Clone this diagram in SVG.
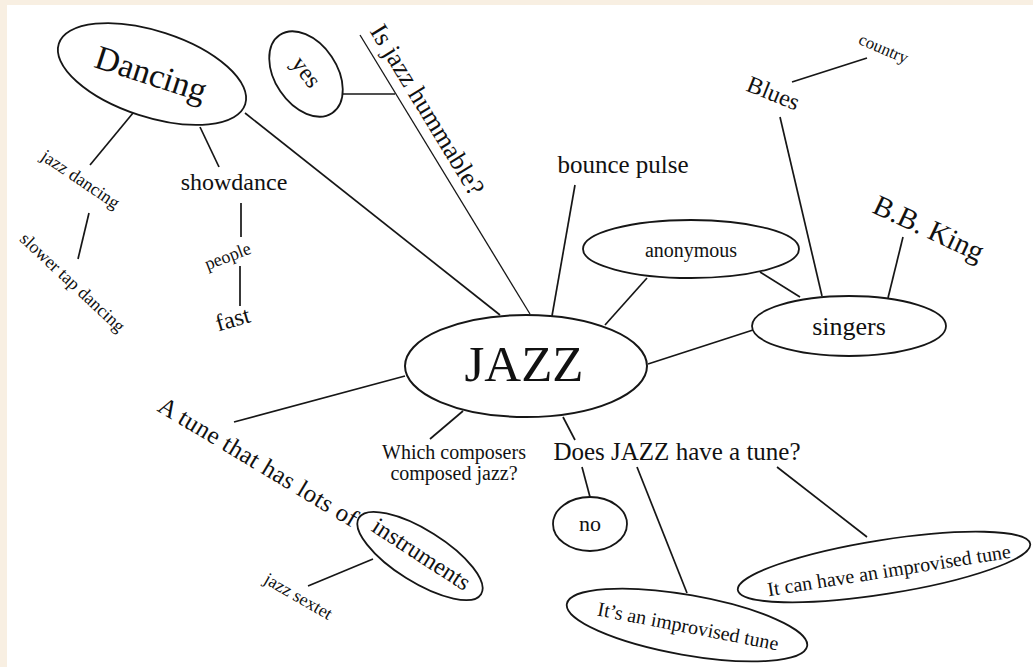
<svg xmlns="http://www.w3.org/2000/svg" width="1033" height="667" viewBox="0 0 1033 667">
<style>
text{font-family:"Liberation Serif","Times New Roman",serif;fill:#111}
.n{fill:#fff;stroke:#161616;stroke-width:1.8}
#connectors line{stroke:#161616;stroke-width:1.7}
</style>
<rect width="1033" height="667" fill="#f8efe2"/>
<rect x="7" y="5" width="1026" height="662" fill="#fff"/>
<g id="connectors">
<line x1="245" y1="113" x2="500" y2="315"/>
<line x1="133" y1="113" x2="90" y2="165"/>
<line x1="200" y1="127" x2="219" y2="167"/>
<line x1="241" y1="203" x2="241" y2="237"/>
<line x1="240" y1="266" x2="240" y2="306"/>
<line x1="89" y1="213" x2="78" y2="259"/>
<line x1="343" y1="94" x2="395" y2="94"/>
<line x1="360" y1="35" x2="530" y2="314" style="stroke-width:1.3"/>
<line x1="575" y1="185" x2="552" y2="316"/>
<line x1="647" y1="278" x2="605" y2="325"/>
<line x1="760" y1="272" x2="800" y2="297"/>
<line x1="792" y1="82" x2="867" y2="58"/>
<line x1="780" y1="117" x2="822" y2="296"/>
<line x1="903" y1="237" x2="888" y2="298"/>
<line x1="648" y1="364" x2="753" y2="330"/>
<line x1="405" y1="376" x2="234" y2="422"/>
<line x1="463" y1="411" x2="430" y2="439"/>
<line x1="563" y1="417" x2="575" y2="440"/>
<line x1="582" y1="467" x2="590" y2="497"/>
<line x1="637" y1="467" x2="687" y2="593"/>
<line x1="777" y1="467" x2="867" y2="537"/>
<line x1="373" y1="559" x2="308" y2="586"/>
</g>
<g id="jazz">
<ellipse class="n" cx="526" cy="366" rx="121" ry="51" style="stroke-width:2"/>
<text x="524" y="381" font-size="51" text-anchor="middle">JAZZ</text>
</g>
<g id="dancing">
<ellipse class="n" cx="152" cy="74" rx="98" ry="43" transform="rotate(18 152 74)"/>
<text transform="translate(151,74) rotate(18)" y="11" font-size="34" text-anchor="middle">Dancing</text>
</g>
<g id="jazz-dancing">
<text transform="translate(80,180) rotate(34)" y="5" font-size="18" text-anchor="middle">jazz dancing</text>
</g>
<g id="slower-tap-dancing">
<text transform="translate(72,283) rotate(43)" y="5" font-size="18" text-anchor="middle">slower tap dancing</text>
</g>
<g id="showdance">
<text x="234" y="190" font-size="24" text-anchor="middle">showdance</text>
</g>
<g id="people">
<text transform="translate(228,257) rotate(-21)" y="5" font-size="18" text-anchor="middle">people</text>
</g>
<g id="fast">
<text transform="translate(233,320) rotate(-16)" y="7" font-size="24" text-anchor="middle">fast</text>
</g>
<g id="yes">
<ellipse class="n" cx="306" cy="74" rx="47" ry="31" transform="rotate(56 306 74)"/>
<text transform="translate(305,73) rotate(53)" y="6" font-size="24" text-anchor="middle">yes</text>
</g>
<g id="hummable">
<text transform="translate(411.5,119.5) rotate(58.6)" y="-10" font-size="26" text-anchor="middle">Is jazz hummable?</text>
</g>
<g id="bounce-pulse">
<text x="623" y="173" font-size="25" text-anchor="middle">bounce pulse</text>
</g>
<g id="anonymous">
<ellipse class="n" cx="691" cy="249" rx="108" ry="29"/>
<text x="691" y="257" font-size="20" text-anchor="middle">anonymous</text>
</g>
<g id="blues">
<text transform="translate(773,94) rotate(22)" y="7" font-size="24" text-anchor="middle">Blues</text>
</g>
<g id="country">
<text transform="translate(883,50) rotate(23)" y="4" font-size="17" text-anchor="middle">country</text>
</g>
<g id="bbking">
<text transform="translate(929,228) rotate(25)" y="10" font-size="29" text-anchor="middle">B.B. King</text>
</g>
<g id="singers">
<ellipse class="n" cx="849" cy="326" rx="97" ry="30"/>
<text x="849" y="335" font-size="26" text-anchor="middle">singers</text>
</g>
<g id="a-tune">
<text transform="translate(258,462) rotate(31)" y="8" font-size="25" text-anchor="middle" textLength="228">A tune that has lots of</text>
</g>
<g id="instruments">
<ellipse class="n" cx="420" cy="556" rx="72" ry="26" transform="rotate(32 420 556)"/>
<text transform="translate(421,555) rotate(33)" y="7" font-size="24" text-anchor="middle">instruments</text>
</g>
<g id="jazz-sextet">
<text transform="translate(298,597) rotate(30)" y="5" font-size="18" text-anchor="middle">jazz sextet</text>
</g>
<g id="composers">
<text x="454" y="459" font-size="20" text-anchor="middle">Which composers</text>
<text x="454" y="480" font-size="20" text-anchor="middle">composed jazz?</text>
</g>
<g id="does-jazz">
<text x="677" y="460" font-size="25" text-anchor="middle">Does JAZZ have a tune?</text>
</g>
<g id="no">
<ellipse class="n" cx="590" cy="524" rx="37" ry="27"/>
<text x="590" y="531" font-size="22" text-anchor="middle">no</text>
</g>
<g id="improvised">
<ellipse class="n" cx="687" cy="625" rx="122" ry="30" transform="rotate(10 687 625)"/>
<text transform="translate(688,627) rotate(11)" y="6" font-size="20" text-anchor="middle">It’s an improvised tune</text>
</g>
<g id="can-have">
<ellipse class="n" cx="884" cy="567" rx="148" ry="27" transform="rotate(-9 884 567)"/>
<text transform="translate(889,571) rotate(-9)" y="6" font-size="20" text-anchor="middle">It can have an improvised tune</text>
</g>
</svg>
